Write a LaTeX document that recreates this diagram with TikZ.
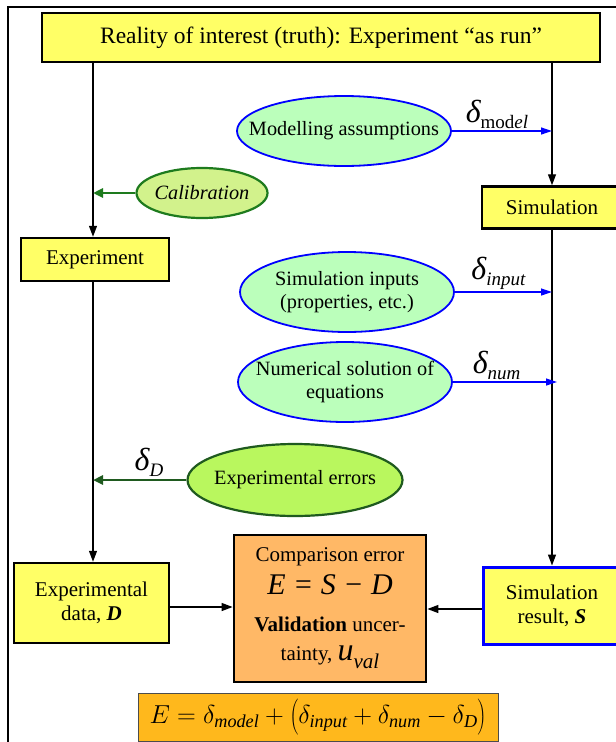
\documentclass[tikz,border=0pt]{standalone}
\usepackage{fix-cm}
\usepackage{fontspec}
\setmainfont{Liberation Serif}
\usetikzlibrary{arrows.meta,shapes.geometric,calc}

\definecolor{boxyellow}{HTML}{FFFF66}
\definecolor{ovalgreen}{HTML}{BBFFBB}
\definecolor{calgreen}{HTML}{D2F28C}
\definecolor{errgreen}{HTML}{B9F75E}
\definecolor{darkgreen}{HTML}{1F5A1F}
\definecolor{calline}{HTML}{1E7B1E}
\definecolor{cmpfill}{HTML}{FFB866}
\definecolor{eqfill}{HTML}{FFB81C}

% error symbol delta with an italic subscript
\newcommand\dsym[1]{{\fontsize{32}{32}\selectfont\itshape δ}\raisebox{-6pt}{\fontsize{19}{19}\selectfont #1}}

\begin{document}
\begin{tikzpicture}[x=1pt,y=-1pt,
  font=\fontsize{21}{24}\selectfont,
  ybox/.style={draw=black, line width=2.5pt, fill=boxyellow, inner sep=0pt, align=center},
  oval/.style={ellipse, draw=blue, line width=1.8pt, fill=ovalgreen, inner sep=0pt},
  flow/.style={line width=1.3pt, -{Triangle[length=11pt,width=8pt]}},
  blueflow/.style={draw=blue, line width=1.2pt, -{Triangle[length=11pt,width=7pt]}},
  greenflow/.style={draw=darkgreen, line width=2.5pt, -{Triangle[length=10pt,width=9pt]}},
  dlabel/.style={inner sep=2pt, text=black},
  intext/.style={label={[align=center, font=\fontsize{20.3}{23.5}\selectfont]center:{#1}}}]
\useasboundingbox (0,0) rectangle (616,742);
\clip (0,0) rectangle (616,742);

% outer frame
\draw[line width=1.8pt] (8,760) -- (8,7) -- (640,7);

% x positions of the two main flow lines
\coordinate (lx) at (93,0);
\coordinate (rx) at (552,0);

% boxes and ovals
\node[ybox, minimum width=558pt, minimum height=49pt, font=\fontsize{23.5}{26}\selectfont] (truth) at (321,37.5) {Reality of interest (truth): Experiment “as run”};
\node[oval, minimum width=214pt, minimum height=70pt, intext={Modelling assumptions}] (model) at (344,131) {};
\node[ellipse, draw=calline, line width=2.2pt, fill=calgreen, minimum width=131pt, minimum height=50pt, inner sep=0pt,
      intext={\itshape Calibration}] (calib) at (202,193) {};
\node[ybox, minimum width=140pt, minimum height=42pt] (sim) at (552,207.5) {Simulation};
\node[ybox, minimum width=148pt, minimum height=43pt] (exp) at (95,259.5) {Experiment};
\node[oval, minimum width=214pt, minimum height=80pt, intext={Simulation inputs\\(properties, etc.)}] (inputs) at (347,292) {};
\node[oval, minimum width=214pt, minimum height=80pt, intext={Numerical solution of\\equations}] (numsol) at (345,382) {};
\node[ellipse, draw=darkgreen, line width=2.2pt, fill=errgreen, minimum width=215pt, minimum height=72pt, inner sep=0pt,
      intext={Experimental errors}] (errors) at (295,480) {};
\node[ybox, minimum width=155pt, minimum height=80pt] (expdata) at (91.5,603) {Experimental\\data, \textbf{\textit{D}}};
\node[draw=black, line width=2.8pt, fill=cmpfill, minimum width=192pt, minimum height=147pt, inner sep=0pt, align=center,
      font=\fontsize{21}{26}\selectfont] (cmp) at (330,608.5)
  {Comparison error\\[7pt]
   {\fontsize{30}{30}\selectfont\itshape E = S − D}\\[11pt]
   \textbf{Validation} uncer-\\[3pt]
   tainty, {\fontsize{32}{32}\selectfont\itshape u}\raisebox{-8pt}{\itshape val}};
\node[ybox, draw=blue, line width=3pt, minimum width=138pt, minimum height=77pt] (simres) at (552,605.5) {Simulation\\result, \textbf{\textit{S}}};
\node[draw=black!70, line width=0.8pt, fill=eqfill, minimum width=360pt, minimum height=48pt, inner sep=0pt] (eq) at (318,717)
  {\fontsize{26}{30}\selectfont $E=\delta_{\mathit{model}}+\left(\vrule height 21pt depth 12pt width 0pt
   \delta_{\mathit{input}}+\delta_{\mathit{num}}-\delta_{\mathit{D}}\right)$};

% main flow lines
\draw[flow] (truth.south -| lx) -- (exp.north -| lx);
\draw[flow] (exp.south -| lx) -- (expdata.north -| lx);
\draw[flow] (truth.south -| rx) -- (sim.north);
\draw[flow] (sim.south) -- (simres.north);

% error contributions
\draw[blueflow] (model.east) -- (model.east -| rx) node[dlabel, pos=0.45, above] {\dsym{\textup{mod}\textit{el}}};
\draw[blueflow] (inputs.east) -- (inputs.east -| rx) node[dlabel, pos=0.45, above] {\dsym{\textit{input}}};
\draw[blueflow] (numsol.east) -- ($(numsol.east -| rx)+(5,0)$) node[dlabel, pos=0.42, above] {\dsym{\textit{num}}};
\draw[greenflow, draw=calline] (calib.west) -- (calib.west -| lx);
\draw[greenflow] (errors.west) -- (errors.west -| lx) node[dlabel, pos=0.4, above] {\dsym{\textit{D}}};

% comparison inputs
\draw[flow] ($(expdata.east)+(0,4)$) -- ($(cmp.west |- expdata.east)+(0,4)$);
\draw[flow] ($(simres.west)+(0,3.5)$) -- ($(cmp.east |- simres.west)+(0,3.5)$);
\end{tikzpicture}
\end{document}
